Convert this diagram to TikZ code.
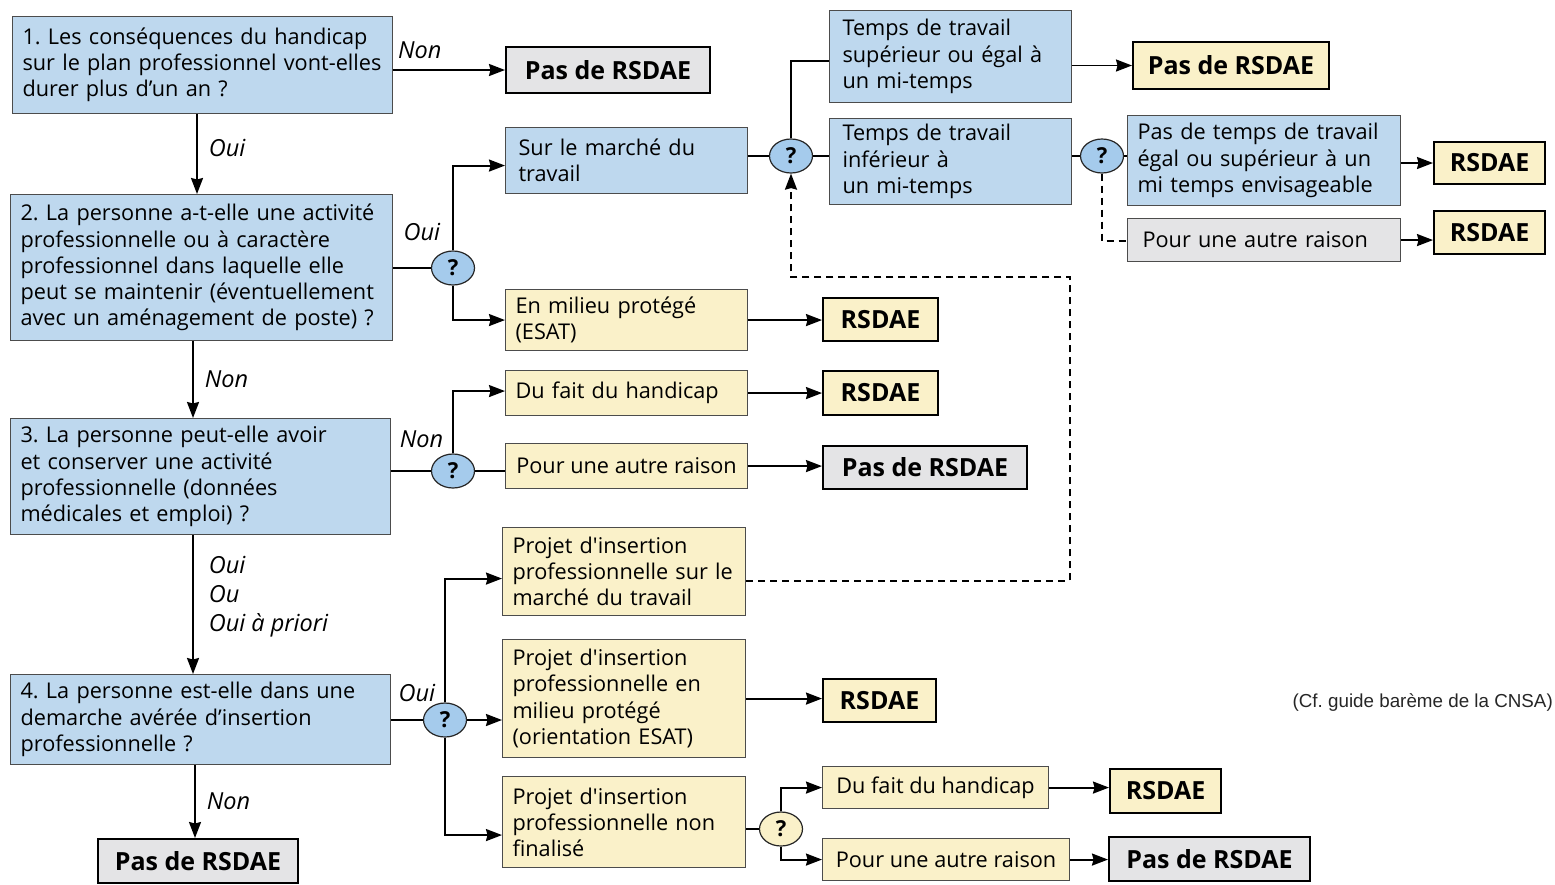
\documentclass[tikz,border=0pt]{standalone}
\usepackage{fontspec}
\setmainfont{Open Sans}
\newfontfamily\plainfont{Open Sans}
\newfontfamily\notefont{Liberation Sans}
\usetikzlibrary{shapes.geometric,arrows.meta,positioning}
\frenchspacing
\hyphenpenalty=10000

\definecolor{boxblue}{RGB}{190,216,238}
\definecolor{askblue}{RGB}{165,203,236}
\definecolor{boxyellow}{RGB}{250,241,201}
\definecolor{boxgrey}{RGB}{228,228,230}

\newcommand\sq{{\plainfont'}}

\tikzset{
  txt/.style={draw=black!70, line width=1.1pt, align=left, anchor=north west,
    inner xsep=10pt, inner ysep=2pt, font=\fontsize{21.7}{26.2}\selectfont},
  sz/.style 2 args={minimum width=#1pt, minimum height=#2pt, text width=#1pt-20pt},
  one/.style 2 args={minimum width=#1pt, minimum height=#2pt, inner xsep=0pt},
  res/.style={draw=black, line width=2pt, anchor=north west, inner sep=0pt,
    font=\bfseries\fontsize{25}{28}\selectfont},
  rsz/.style 2 args={minimum width=#1pt, minimum height=#2pt},
  ask/.style={ellipse, draw=black!85, line width=1.2pt, fill=askblue,
    minimum width=43pt, minimum height=34pt, inner sep=0pt,
    font=\bfseries\fontsize{22}{22}\selectfont},
  link/.style={line width=1.9pt},
  arr/.style={line width=1.9pt, -{Stealth[length=16pt,width=12pt,inset=1.5pt]}},
  lbl/.style={font=\itshape\fontsize{23.5}{29}\selectfont, inner sep=4pt},
}

\begin{document}
\begin{tikzpicture}[x=1pt,y=-1pt]
  \useasboundingbox (0,0) rectangle (1555,884);

  % questions
  \node[txt, sz={380}{97}, fill=boxblue] (q1) at (12,16)
    {1. Les conséquences du handicap\\sur le plan professionnel vont-elles\\durer plus d’un an ?};
  \node[txt, sz={382}{146}, fill=boxblue] (q2) at (10,194)
    {2. La personne a-t-elle une activité\\professionnelle ou à caractère\\professionnel dans laquelle elle\\peut se maintenir (éventuellement\\avec un aménagement de poste) ?};
  \node[txt, sz={380}{116}, fill=boxblue] (q3) at (10,418)
    {3. La personne peut-elle avoir\\et conserver une activité\\professionnelle (données\\médicales et emploi) ?};
  \node[txt, sz={380}{90}, fill=boxblue] (q4) at (10,674)
    {4. La personne est-elle dans une\\demarche avérée d’insertion\\professionnelle ?};

  \node[res, rsz={204}{46}, fill=boxgrey] (pas1) at (505,46) {Pas de RSDAE};
  \node[res, rsz={200}{44}, fill=boxgrey] (pas4) at (97,838) {Pas de RSDAE};

  % question marks
  \node[ask] (c2) at (453,268) {?};
  \node[ask] (c3) at (453,471) {?};
  \node[ask] (c4) at (445,720) {?};
  \node[ask, fill=boxyellow] (c5) at (781,829) {?};
  \node[ask] (m1) at (791,156) {?};
  \node[ask] (m2) at (1102,156) {?};

  % middle column
  \node[txt, sz={236}{66}, fill=boxblue, inner xsep=13pt] (marche) at (505,127) {Sur le marché du\\travail};
  \node[txt, sz={242}{61}, fill=boxyellow] (esat) at (505,289) {En milieu protégé\\(ESAT)};
  \node[txt, sz={242}{45}, fill=boxyellow] (dufait1) at (505,370) {Du fait du handicap};
  \node[txt, one={242}{45}, fill=boxyellow] (autre1) at (505,443) {Pour une autre raison};
  \node[txt, sz={243}{88}, fill=boxyellow] (projm) at (502,527)
    {Projet d\sq insertion\\professionnelle sur le\\marché du travail};
  \node[txt, sz={243}{118}, fill=boxyellow] (proje) at (502,639)
    {Projet d\sq insertion\\professionnelle en\\milieu protégé\\(orientation ESAT)};
  \node[txt, sz={243}{91}, fill=boxyellow] (projn) at (502,776)
    {Projet d\sq insertion\\professionnelle non\\finalisé};

  \node[res, rsz={115}{43}, fill=boxyellow] (rsdae1) at (822,297) {RSDAE};
  \node[res, rsz={115}{44}, fill=boxyellow] (rsdae2) at (822,370) {RSDAE};
  \node[res, rsz={204}{43}, fill=boxgrey] (pas3) at (822,445) {Pas de RSDAE};
  \node[res, rsz={113}{43}, fill=boxyellow] (rsdae4) at (822,678) {RSDAE};

  \node[txt, one={226}{42}, fill=boxyellow] (dufait2) at (822,766) {Du fait du handicap};
  \node[txt, one={247}{42}, fill=boxyellow] (autre2) at (822,838) {Pour une autre raison};
  \node[res, rsz={111}{44}, fill=boxyellow] (rsdae5) at (1109,768) {RSDAE};
  \node[res, rsz={201}{44}, fill=boxgrey] (pas5) at (1108,836) {Pas de RSDAE};

  % working time
  \node[txt, sz={236}{92}, fill=boxblue, inner xsep=13pt] (sup) at (829,10)
    {Temps de travail\\supérieur ou égal à\\un mi-temps};
  \node[txt, sz={236}{86}, fill=boxblue, inner xsep=13pt] (inf) at (829,118)
    {Temps de travail\\inférieur à\\un mi-temps};
  \node[res, rsz={196}{47}, fill=boxyellow] (passup) at (1132,41) {Pas de RSDAE};
  \node[txt, sz={273}{90}, fill=boxblue] (pastemps) at (1127,115)
    {Pas de temps de travail\\égal ou supérieur à un\\mi temps envisageable};
  \node[txt, sz={263}{43}, fill=boxgrey, inner xsep=15pt] (autre3) at (1127,218) {Pour une autre raison};
  \node[res, rsz={111}{42}, fill=boxyellow] (rsdaea) at (1433,141) {RSDAE};
  \node[res, rsz={111}{43}, fill=boxyellow] (rsdaeb) at (1433,210) {RSDAE};

  \node[anchor=east, inner sep=0pt, text=black!85, font=\notefont\fontsize{18.8}{22}\selectfont] (note) at (1553,703)
    {(Cf. guide barème de la CNSA)};

  % main column
  \draw[arr] (q1.east |- pas1.west) -- node[lbl, above right, pos=0, yshift=6pt] {Non} (pas1.west);
  \draw[arr] (q1.south -| 197,0) -- node[lbl, right, xshift=7pt, pos=0.43] {Oui} (q2.north -| 197,0);
  \draw[arr] (q2.south -| 193,0) -- node[lbl, right, xshift=7pt] {Non} (q3.north -| 193,0);
  \draw[arr] (q3.south -| 193,0) -- node[lbl, right, xshift=11pt, align=left, pos=0.44] {Oui\\Ou\\Oui à priori} (q4.north -| 193,0);
  \draw[arr] (q4.south -| 195,0) -- node[lbl, right, xshift=7pt] {Non} (pas4.north -| 195,0);

  % question 2
  \draw[link] (q2.east |- c2) -- (c2);
  \draw[arr] (c2.north) |- node[lbl, left, pos=0.11, xshift=-8pt] {Oui} ([yshift=-5pt]marche.west);
  \draw[arr] (c2.south) |- (esat.west);
  \draw[arr] (esat) -- (esat -| rsdae1.west);

  % question 3
  \draw[link] (q3.east |- c3) -- (c3);
  \draw[arr] (c3.north) |- node[lbl, left, pos=0.11, xshift=-5pt] {Non} ([yshift=2pt]dufait1.west);
  \draw[link] (c3) -- (c3 -| autre1.west);
  \draw[arr] (dufait1) -- (dufait1 -| rsdae2.west);
  \draw[arr] (autre1) -- (autre1 -| pas3.west);

  % question 4
  \draw[link] (q4.east |- c4) -- (c4);
  \draw[arr] (c4.north) |- node[lbl, left, pos=0.04, xshift=-5pt] {Oui} ([yshift=-7pt]projm.west);
  \draw[arr] (c4) -- (c4 -| proje.west);
  \draw[arr] (c4.south) |- ([yshift=-13pt]projn.west);
  \draw[arr] (proje) -- (proje -| rsdae4.west);

  \draw[link] (projn.east |- c5) -- (c5);
  \draw[arr] (c5.north) |- (dufait2.west);
  \draw[arr] (c5.south) |- (autre2.west);
  \draw[arr] (dufait2) -- (dufait2 -| rsdae5.west);
  \draw[arr] (autre2) -- (autre2 -| pas5.west);

  % labour market
  \draw[link] (marche.east |- m1) -- (m1);
  \draw[link] (m1) -- (m1 -| inf.west);
  \draw[link] (m1.north) |- ([yshift=-4pt]sup.west);
  \draw[arr] (sup.east |- passup) -- (passup);
  \draw[link] (inf.east |- m2) -- (m2);
  \draw[link] (m2) -- (m2 -| pastemps.west);
  \draw[arr] (pastemps.east |- rsdaea) -- (rsdaea);
  \draw[link, dash pattern=on 7pt off 5pt] (m2.south) |- ([yshift=-1pt]autre3.west);
  \draw[arr] (autre3) -- (autre3 -| rsdaeb.west);

  \coordinate (back) at (1070,277);
  \draw[arr, dash pattern=on 7pt off 5pt] ([yshift=-9pt]projm.east) -| (back) -| (m1.south);
\end{tikzpicture}
\end{document}
